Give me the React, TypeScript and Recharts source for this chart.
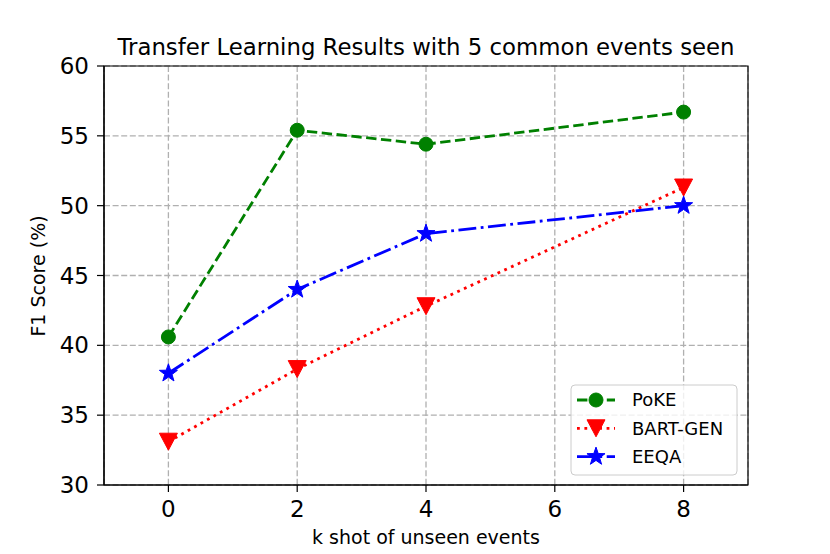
import React from 'react'
import {
  LineChart,
  Line,
  XAxis,
  YAxis,
  CartesianGrid,
  ReferenceArea,
  Legend,
} from 'recharts'

const kShots = [0, 2, 4, 8]
const pokeScores = [40.6, 55.4, 54.4, 56.7]
const bartGenScores = [33.1, 38.3, 42.8, 51.3]
const eeqaScores = [38.0, 44.0, 48.0, 50.0]

const xTicks = [0, 2, 4, 6, 8]
const yTicks = [30, 35, 40, 45, 50, 55, 60]

const title = 'Transfer Learning Results with 5 common events seen'
const xLabel = 'k shot of unseen events'
const yLabel = 'F1 Score (%)'

const FONT = '"DejaVu Sans", sans-serif'

const data = kShots.map((k, i) => ({
  k,
  poke: pokeScores[i],
  bart: bartGenScores[i],
  eeqa: eeqaScores[i],
}))

type Shape = 'circle' | 'triangle' | 'star'

function Marker({ cx, cy, shape, color }: { cx: number; cy: number; shape: Shape; color: string }) {
  if (shape === 'circle') {
    return <circle cx={cx} cy={cy} r={7} fill={color} stroke={color} />
  }
  if (shape === 'triangle') {
    const h = 8.5
    return (
      <path
        d={`M${cx - 9},${cy - h} L${cx + 9},${cy - h} L${cx},${cy + h} Z`}
        fill={color}
        stroke={color}
      />
    )
  }
  const pts: string[] = []
  for (let i = 0; i < 10; i++) {
    const r = i % 2 === 0 ? 9.5 : 3.8
    const a = -Math.PI / 2 + (i * Math.PI) / 5
    pts.push(`${cx + r * Math.cos(a)},${cy + r * Math.sin(a)}`)
  }
  return <polygon points={pts.join(' ')} fill={color} stroke={color} />
}

const LW = 2.8

const series = [
  { key: 'poke', name: 'PoKE', color: '#008000', dash: '10.4 4.5', shape: 'circle' as Shape },
  { key: 'bart', name: 'BART-GEN', color: '#ff0000', dash: '2.8 4.6', shape: 'triangle' as Shape },
  { key: 'eeqa', name: 'EEQA', color: '#0000ff', dash: '17.9 4.5 2.8 4.5', shape: 'star' as Shape },
]

function LegendBox() {
  return (
    <svg width={168} height={92} style={{ display: 'block' }}>
      <rect x={1} y={1} width={166} height={90} rx={4} fill="white" fillOpacity={0.8} stroke="#cccccc" />
      {series.map((s, i) => {
        const y = 16 + i * 28.3
        return (
          <g key={s.key}>
            <line x1={7} x2={45} y1={y} y2={y} stroke={s.color} strokeWidth={LW} strokeDasharray={s.dash} />
            <Marker cx={26} cy={y} shape={s.shape} color={s.color} />
            <text x={62} y={y} dy="0.36em" fontSize={18} fontFamily={FONT} fill="#000">
              {s.name}
            </text>
          </g>
        )
      })}
    </svg>
  )
}

export default function App() {
  return (
    <div style={{ position: 'absolute', left: 0, top: 0, width: 830, height: 554, background: '#fff' }}>
      <svg width={830} height={70} style={{ position: 'absolute', left: 0, top: 0 }}>
        <text x={426} y={55} textAnchor="middle" fontSize={22.8} fontFamily={FONT} fill="#000">
          {title}
        </text>
      </svg>
      <div style={{ position: 'absolute', left: 0, top: 0 }}>
        <LineChart width={830} height={554} data={data} margin={{ top: 66, right: 82, left: 0, bottom: 0 }}>
          <CartesianGrid stroke="#b0b0b0" strokeWidth={1.3} strokeDasharray="6 2.6" />
          <XAxis
            dataKey="k"
            type="number"
            domain={[-1, 9]}
            ticks={xTicks}
            allowDataOverflow
            height={69}
            tickSize={7}
            tickMargin={9}
            axisLine={{ stroke: '#000', strokeWidth: 1.2 }}
            tickLine={{ stroke: '#000', strokeWidth: 1.2 }}
            tick={{ fill: '#000', fontSize: 23, fontFamily: FONT }}
            label={{
              content: () => (
                <text x={426} y={537} dy="0.36em" textAnchor="middle" fontSize={19} fontFamily={FONT} fill="#000">
                  {xLabel}
                </text>
              ),
            }}
          />
          <YAxis
            type="number"
            domain={[30, 60]}
            ticks={yTicks}
            allowDataOverflow
            width={104}
            tickSize={7}
            tickMargin={8}
            axisLine={{ stroke: '#000', strokeWidth: 1.2 }}
            tickLine={{ stroke: '#000', strokeWidth: 1.2 }}
            tick={{ fill: '#000', fontSize: 23, fontFamily: FONT }}
            label={{
              content: () => (
                <text
                  x={38}
                  y={276}
                  dy="0.36em"
                  textAnchor="middle"
                  fontSize={19}
                  fontFamily={FONT}
                  fill="#000"
                  transform="rotate(-90 38 276)"
                >
                  {yLabel}
                </text>
              ),
            }}
          />
          <ReferenceArea x1={-1} x2={9} y1={30} y2={60} fill="none" stroke="#000" strokeWidth={1.2} />
          {series.map((s) => (
            <Line
              key={s.key}
              dataKey={s.key}
              name={s.name}
              stroke={s.color}
              strokeWidth={LW}
              strokeDasharray={s.dash}
              isAnimationActive={false}
              activeDot={false}
              dot={(p: any) => (
                <Marker key={`${s.key}-${p.index}`} cx={p.cx} cy={p.cy} shape={s.shape} color={s.color} />
              )}
            />
          ))}
          <Legend
            layout="vertical"
            align="center"
            verticalAlign="middle"
            content={() => <LegendBox />}
            wrapperStyle={{ position: 'absolute', left: 570, top: 384, width: 168, height: 92 }}
          />
        </LineChart>
      </div>
    </div>
  )
}
